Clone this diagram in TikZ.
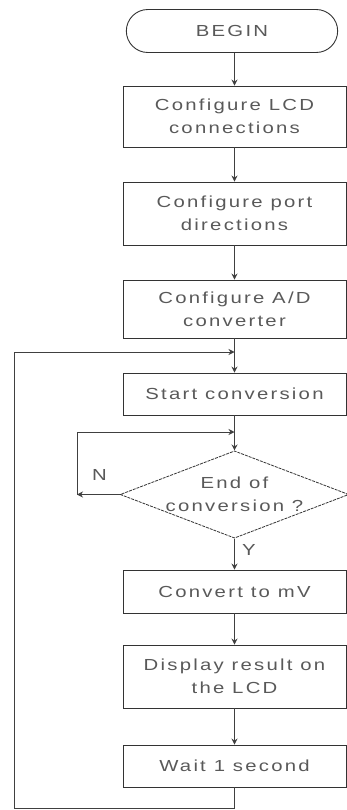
\documentclass[tikz,border=0pt]{standalone}
\usepackage{fontspec}
\setmainfont{Liberation Sans}[FakeStretch=1.27,LetterSpace=14]
\usetikzlibrary{shapes.geometric,shapes.misc,arrows.meta}
\begin{document}
\begin{tikzpicture}[x=1pt,y=-1pt,
  every node/.style={font=\fontsize{16}{23}\selectfont, text=black!65},
  proc/.style={draw=black!80, line width=0.9pt, minimum width=223pt, align=center, inner sep=0pt},
  term/.style={draw=black!80, line width=0.9pt, rounded rectangle, minimum width=218pt, minimum height=43pt},
  dec/.style={draw=black!80, line width=0.8pt, dashed, dash pattern=on 3pt off 1pt, diamond, aspect=2.62, minimum width=223pt, minimum height=85pt, inner sep=0pt, align=center},
  conn/.style={draw=black!75, line width=0.9pt},
  arr/.style={conn, -{Stealth[length=6pt,width=6pt]}},
  lab/.style={anchor=west, inner sep=0pt}]
\useasboundingbox (0,0) rectangle (347,810);
\node[term] (begin) at (232,31) {BEGIN};
\node[proc, minimum height=61pt] (b1) at (234.5,116.5) {Configure LCD\\connections};
\node[proc, minimum height=63pt] (b2) at (234.5,213.5) {Configure port\\directions};
\node[proc, minimum height=58pt] (b3) at (234.5,309) {Configure A/D\\converter};
\node[proc, minimum height=42pt] (b4) at (234.5,394) {Start conversion};
\node[dec] (d) at (234.5,494.5) {End of\\conversion ?};
\node[proc, minimum height=43pt] (b5) at (234.5,591.5) {Convert to mV};
\node[proc, minimum height=63pt] (b6) at (234.5,676.5) {Display result on\\the LCD};
\node[proc, minimum height=42pt] (b7) at (234.5,766) {Wait 1 second};
\coordinate (m1) at (234.5,352);
\coordinate (m2) at (234.5,432);
\coordinate (bl) at (234.5,808);
\coordinate (lc) at (14,808);
\coordinate (nl) at (77,494.5);
\node[lab] (nlab) at (92,475) {N};
\node[lab] (ylab) at (242,550) {Y};
\draw[arr] (begin.south -| b1.north) -- (b1.north);
\draw[arr] (b1) -- (b2);
\draw[arr] (b2) -- (b3);
\draw[conn] (b3.south) -- (m1);
\draw[arr] (m1) -- (b4.north);
\draw[conn] (b4.south) -- (m2);
\draw[arr] (m2) -- (d.north);
\draw[arr] (d.west) -- (nl);
\draw[arr] (nl) |- (m2);
\draw[arr] (d.south) -- (b5.north);
\draw[arr] (b5) -- (b6);
\draw[arr] (b6) -- (b7);
\draw[conn] (b7.south) -- (bl) -- (lc);
\draw[arr] (lc) |- (m1);
\end{tikzpicture}
\end{document}
